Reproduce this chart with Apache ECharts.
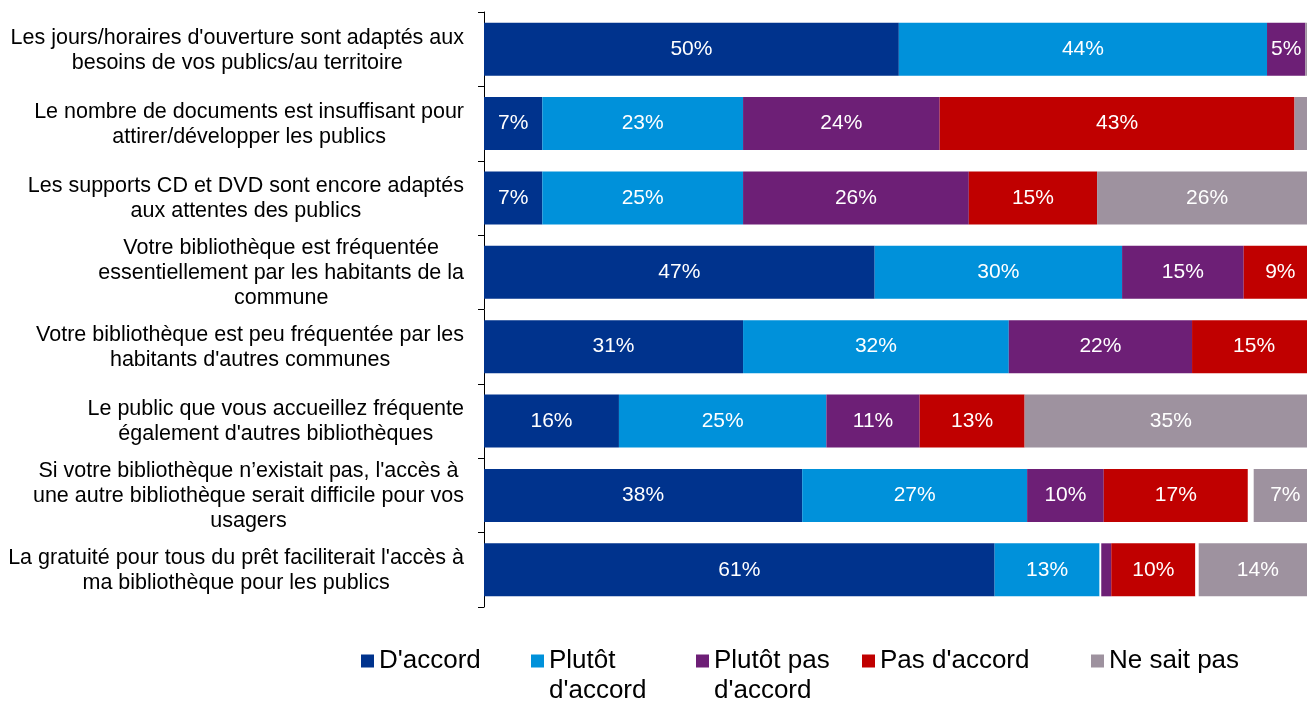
<!DOCTYPE html>
<html>
<head>
<meta charset="utf-8">
<script src="https://cdn.jsdelivr.net/npm/echarts@6/dist/echarts.min.js"></script>
<style>
html,body{margin:0;padding:0;background:#fff;}
#chart{width:1307px;height:701px;}
</style>
</head>
<body>
<div id="chart"></div>
<script>
// données (en %)
var categories = [
    "Les jours/horaires d'ouverture sont adaptés aux\nbesoins de vos publics/au territoire",
    "Le nombre de documents est insuffisant pour\nattirer/développer les publics",
    "Les supports CD et DVD sont encore adaptés\naux attentes des publics",
    "Votre bibliothèque est fréquentée\nessentiellement par les habitants de la\ncommune",
    "Votre bibliothèque est peu fréquentée par les\nhabitants d'autres communes",
    "Le public que vous accueillez fréquente\négalement d'autres bibliothèques",
    "Si votre bibliothèque n’existait pas, l'accès à\nune autre bibliothèque serait difficile pour vos\nusagers",
    "La gratuité pour tous du prêt faciliterait l'accès à\nma bibliothèque pour les publics"
];
var accord       = [49.8, 7.0, 7.0, 46.9, 31.1, 16.2, 38.2, 61.3];
var plutotAccord = [44.2, 24.1, 24.1, 29.7, 31.9, 24.9, 27.0, 12.6];
var vide1        = [0, 0, 0, 0, 0, 0, 0, 0.2];
var plutotPas    = [4.6, 23.6, 27.1, 14.6, 22.0, 11.2, 9.2, 1.2];
var pasAccord    = [0, 42.6, 15.4, 8.8, 14.9, 12.6, 17.3, 10.1];
var vide2        = [0, 0, 0, 0, 0, 0, 0.7, 0.4];
var neSaitPas    = [1.4, 2.7, 26.4, 0, 0, 35.1, 7.6, 14.3];

// étiquettes affichées
var accordLbl       = ['50%', '7%', '7%', '47%', '31%', '16%', '38%', '61%'];
var plutotAccordLbl = ['44%', '23%', '25%', '30%', '32%', '25%', '27%', '13%'];
var plutotPasLbl    = ['5%', '24%', '26%', '15%', '22%', '11%', '10%', ''];
var pasAccordLbl    = ['', '43%', '15%', '9%', '15%', '13%', '17%', '10%'];
var neSaitPasLbl    = ['', '', '26%', '', '', '35%', '7%', '14%'];

var noms = ["D'accord", "Plutôt d'accord", "Plutôt pas d'accord", "Pas d'accord", "Ne sait pas"];
var couleurs = ['#00338d', '#0091da', '#6d1f76', '#c00000', '#9e929f'];

var police = 'Liberation Sans, Arial, sans-serif';

function serie(nom, data, couleur, lbl) {
    return {
        name: nom,
        type: 'bar',
        stack: 'total',
        barWidth: 53,
        data: data,
        itemStyle: { color: couleur },
        label: {
            show: !!lbl,
            position: 'inside',
            color: '#fff',
            fontSize: 21,
            fontFamily: police,
            formatter: function (p) { return lbl ? lbl[p.dataIndex] : ''; }
        },
        emphasis: { disabled: true }
    };
}

// une légende par entrée, placée comme dans l'original
// (ligne vide en tête pour aligner la 1re ligne sur le carré)
function legende(i, left, multi) {
    return {
        data: [noms[i]],
        left: left,
        top: multi ? 611 : 641,
        icon: 'rect',
        itemWidth: 13,
        itemHeight: 13,
        itemGap: 0,
        selectedMode: false,
        formatter: function (n) {
            if (n === "Plutôt d'accord") return "\nPlutôt\nd'accord";
            if (n === "Plutôt pas d'accord") return "\nPlutôt pas\nd'accord";
            return n;
        },
        textStyle: {
            fontSize: 26,
            fontFamily: police,
            color: '#000',
            lineHeight: 30
        }
    };
}

var chart = echarts.init(document.getElementById('chart'));
chart.setOption({
    animation: false,
    grid: { left: 484, top: 12, height: 595, width: 833, outerBoundsMode: 'none' },
    xAxis: { type: 'value', min: 0, max: 100, show: false },
    yAxis: {
        type: 'category',
        inverse: true,
        data: categories,
        axisLine: { show: true, lineStyle: { color: '#000', width: 1 } },
        axisTick: { show: true, length: 6, lineStyle: { color: '#000' } },
        axisLabel: {
            margin: 20,
            align: 'right',
            fontSize: 21.5,
            fontFamily: police,
            color: '#000',
            lineHeight: 25,
            formatter: function (v) {
                return v.split('\n').map(function (l) { return '{c|' + l + '}'; }).join('\n');
            },
            rich: { c: { align: 'center', fontSize: 21.5, fontFamily: police, color: '#000', lineHeight: 25, padding: [2, 0, 0, 0] } }
        }
    },
    legend: [
        legende(0, 356, false),
        legende(1, 526, true),
        legende(2, 691, true),
        legende(3, 857, false),
        legende(4, 1086, false)
    ],
    series: [
        serie(noms[0], accord, couleurs[0], accordLbl),
        serie(noms[1], plutotAccord, couleurs[1], plutotAccordLbl),
        serie('vide1', vide1, '#ffffff', null),
        serie(noms[2], plutotPas, couleurs[2], plutotPasLbl),
        serie(noms[3], pasAccord, couleurs[3], pasAccordLbl),
        serie('vide2', vide2, '#ffffff', null),
        serie(noms[4], neSaitPas, couleurs[4], neSaitPasLbl)
    ]
});
</script>
</body>
</html>
